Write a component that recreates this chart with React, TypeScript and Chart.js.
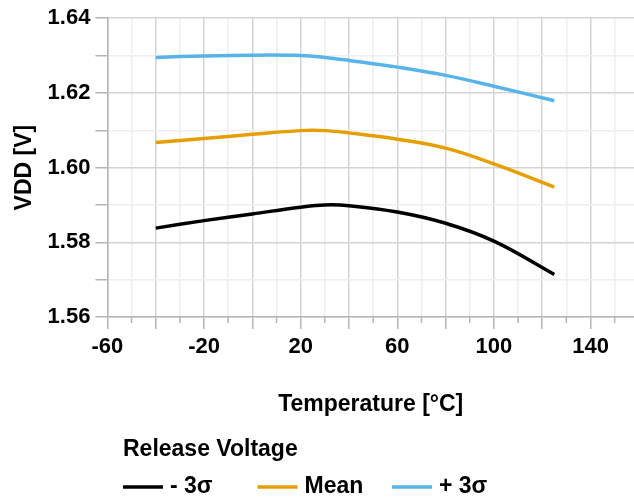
import React, { useEffect, useRef } from "react";
import { Chart, registerables } from "chart.js";

Chart.register(...registerables);

const temperatures = [-40, -20, 0, 20, 30, 40, 60, 80, 100, 125];
const minus3Sigma = [1.5838, 1.5858, 1.5876, 1.5894, 1.59, 1.5898, 1.5881, 1.5851, 1.5803, 1.5714];
const meanValues = [1.6067, 1.6078, 1.6089, 1.6099, 1.6099, 1.6093, 1.6076, 1.6052, 1.601, 1.5948];
const plus3Sigma = [1.6295, 1.6299, 1.6301, 1.63, 1.6295, 1.6287, 1.6269, 1.6247, 1.6218, 1.6179];

const seriesLabels = ["- 3\u03c3", "Mean", "+ 3\u03c3"];
const seriesColors = ["#000000", "#E69F00", "#56B4E9"];
const legendTitle = "Release Voltage";
const xTitle = "Temperature [\u00b0C]";
const yTitle = "VDD [V]";

const FONT = "'Liberation Sans', Arial, Helvetica, sans-serif";
const AXIS_GRAY = "#b5b5b5";

const legendPlugin = {
  id: "customLegend",
  afterDraw(chart: any) {
    const ctx = chart.ctx;
    ctx.save();
    ctx.fillStyle = "#000";
    ctx.textBaseline = "middle";
    ctx.textAlign = "left";
    ctx.font = `bold 23px ${FONT}`;
    ctx.fillText(legendTitle, 123, 449.5);
    chart.data.datasets.forEach((ds: any, i: number) => {
      const x0 = 123 + i * 134.5;
      const y = 487;
      ctx.strokeStyle = ds.borderColor;
      ctx.lineWidth = 3.5;
      ctx.beginPath();
      ctx.moveTo(x0, y);
      ctx.lineTo(x0 + 40, y);
      ctx.stroke();
      ctx.fillStyle = "#000";
      ctx.font = `bold 23px ${FONT}`;
      ctx.fillText(ds.label, x0 + 47, y);
    });
    ctx.restore();
  },
};

const minorTickPlugin = {
  id: "minorTicks",
  afterDraw(chart: any) {
    const sx = chart.scales.x;
    const ctx = chart.ctx;
    const bottom = chart.chartArea.bottom;
    ctx.save();
    ctx.strokeStyle = AXIS_GRAY;
    ctx.lineWidth = 1.5;
    sx.ticks.forEach((t: any) => {
      if (Math.round(t.value) % 20 !== 0) {
        const px = sx.getPixelForValue(t.value);
        ctx.beginPath();
        ctx.moveTo(px, bottom);
        ctx.lineTo(px, bottom + 6);
        ctx.stroke();
      }
    });
    ctx.restore();
  },
};

export default function App() {
  const canvasRef = useRef<HTMLCanvasElement | null>(null);

  useEffect(() => {
    if (!canvasRef.current) return;
    const mk = (vals: number[]) => temperatures.map((t, i) => ({ x: t, y: vals[i] }));
    const allSeries = [minus3Sigma, meanValues, plus3Sigma];
    const chart = new Chart(canvasRef.current, {
      type: "line",
      data: {
        datasets: allSeries.map((vals, i) => ({
          label: seriesLabels[i],
          data: mk(vals),
          borderColor: seriesColors[i],
          backgroundColor: seriesColors[i],
          borderWidth: 3.5,
          pointRadius: 0,
          tension: 0.4,
          fill: false,
        })),
      },
      options: {
        animation: false,
        responsive: false,
        layout: { padding: { top: 16, right: 0, left: 0, bottom: 79 } },
        plugins: {
          legend: { display: false },
          tooltip: { enabled: false },
        },
        scales: {
          x: {
            type: "linear",
            min: -60,
            max: 158,
            border: { color: AXIS_GRAY, width: 1.5 },
            grid: {
              color: (c: any) => (Math.round(c.tick.value) % 20 === 0 ? "#d4d4d4" : "#eeeeee"),
              lineWidth: 1.5,
              tickLength: 12,
              tickColor: (c: any) => (Math.round(c.tick.value) % 20 === 0 ? AXIS_GRAY : "rgba(0,0,0,0)"),
            },
            ticks: {
              stepSize: 10,
              includeBounds: false,
              autoSkip: false,
              maxRotation: 0,
              minRotation: 0,
              padding: 5,
              color: "#000",
              font: { family: FONT, size: 22, weight: "bold" },
              callback: (v: any) => ((Math.round(v) + 60) % 40 === 0 ? String(v) : ""),
            },
            title: {
              display: true,
              text: xTitle,
              color: "#000",
              font: { family: FONT, size: 23, weight: "bold" },
              padding: { top: 25, bottom: 3 },
            },
          },
          y: {
            type: "linear",
            min: 1.56,
            max: 1.64,
            border: { color: AXIS_GRAY, width: 1.5 },
            grid: {
              color: (c: any) => (Math.round(c.tick.value * 100) % 2 === 0 ? "#d4d4d4" : "#eeeeee"),
              lineWidth: 1.5,
              tickLength: 12,
              tickColor: AXIS_GRAY,
            },
            ticks: {
              stepSize: 0.01,
              autoSkip: false,
              padding: 5,
              color: "#000",
              font: { family: FONT, size: 22, weight: "bold" },
              callback: (v: any) => (Math.round(v * 100) % 2 === 0 ? Number(v).toFixed(2) : ""),
            },
            title: {
              display: true,
              text: yTitle,
              color: "#000",
              font: { family: FONT, size: 23, weight: "bold" },
              padding: { top: 11, bottom: 4 },
            },
          },
        },
      },
      plugins: [legendPlugin, minorTickPlugin],
    });
    return () => chart.destroy();
  }, []);

  return (
    <div style={{ position: "fixed", left: 0, top: 0, width: 634, height: 500, background: "#fff" }}>
      <canvas ref={canvasRef} width={634} height={500} style={{ display: "block" }} />
    </div>
  );
}
